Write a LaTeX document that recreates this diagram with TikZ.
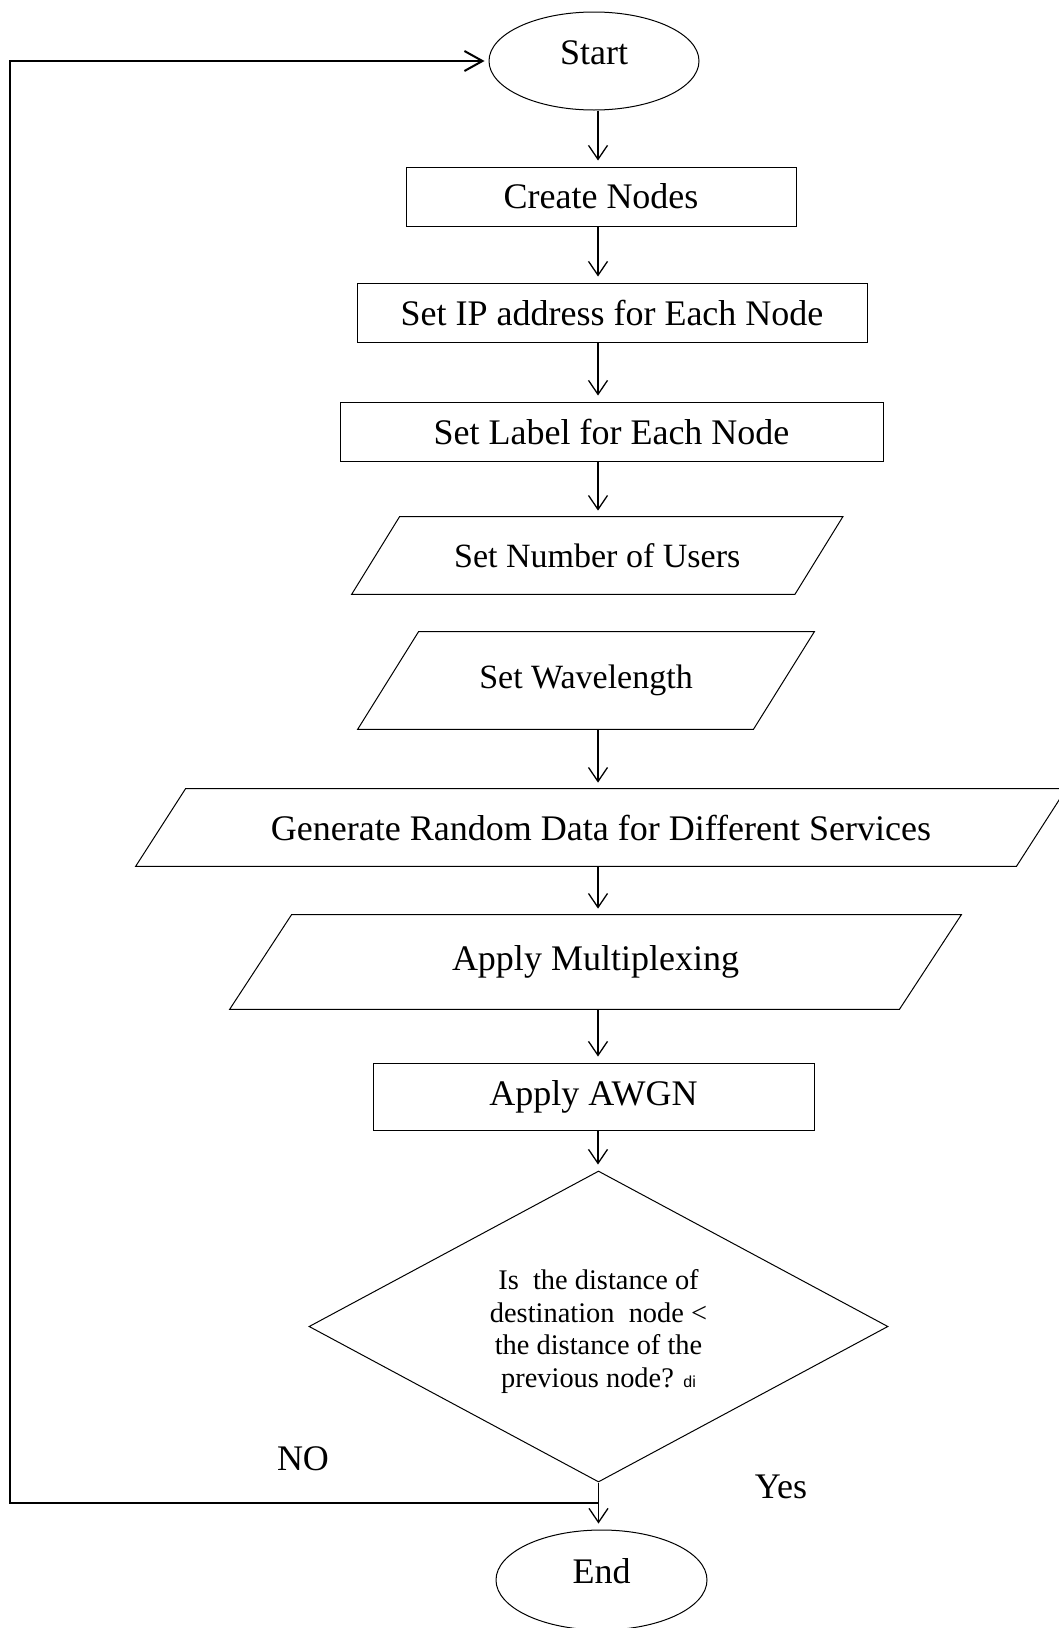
\documentclass[tikz,border=0pt]{standalone}
\usepackage{fontspec}
\setmainfont{Liberation Serif}
\newfontfamily\tinysans{Liberation Sans}
\usetikzlibrary{shapes.geometric,arrows.meta}

% slanted input/output box drawn around a plain rectangular text node
\newcommand{\iopara}[2]{%
  \draw[outline] ([xshift=#2]#1.north west) -- ([xshift=#2]#1.north east)
    -- ([xshift=-#2]#1.south east) -- ([xshift=-#2]#1.south west) -- cycle;}

\begin{document}
\begin{tikzpicture}[x=0.5pt,y=-0.5pt,
  outline/.style={line width=0.5pt, line join=miter},
  txt/.style={font=\fontsize{18}{21}\selectfont},
  smalltxt/.style={font=\fontsize{17}{20}\selectfont},
  procbox/.style={txt, draw, outline, rectangle, inner sep=0pt},
  iobox/.style={txt, rectangle, inner sep=0pt},
  terminal/.style={draw, outline, ellipse, inner sep=0pt},
  flow/.style={line width=0.65pt, -{Straight Barb[length=7pt,width=9.5pt]}, shorten >=3pt},
  loopline/.style={line width=1pt, -{Straight Barb[length=9pt,width=10pt]}, shorten >=2pt}
]
\useasboundingbox (0,0) rectangle (1059,1628);
\clip (0,0) rectangle (1059,1628);

% terminals
\node[terminal, minimum width=105pt, minimum height=49pt,
      label={[txt,yshift=4.25pt]center:Start}] (start) at (594,61) {};
\node[terminal, minimum width=105.5pt, minimum height=50pt,
      label={[txt,yshift=4.25pt]center:End}] (end) at (601.5,1580) {};

% process steps
\node[procbox, minimum width=195pt, minimum height=29.5pt] (create) at (601,196.5) {Create Nodes};
\node[procbox, minimum width=255pt, minimum height=29.5pt] (ip) at (612,312.5) {Set IP address for Each Node};
\node[procbox, minimum width=271.5pt, minimum height=29.5pt] (lbl) at (611.5,431.5) {Set Label for Each Node};

% input/output steps
\node[iobox, smalltxt, minimum width=221.25pt, minimum height=38.5pt] (users) at (597.25,555.5) {Set Number of Users};
\node[iobox, smalltxt, minimum width=197.5pt, minimum height=48.5pt] (wave) at (586,680.5) {Set Wavelength};
\node[iobox, minimum width=440pt, minimum height=38.5pt] (gen) at (601,827.5) {Generate Random Data for Different Services};
\node[iobox, minimum width=334.5pt, minimum height=47pt] (mux) at (595.5,962) {Apply Multiplexing};
\iopara{users}{12pt}
\iopara{wave}{15.25pt}
\iopara{gen}{12.5pt}
\iopara{mux}{15.5pt}

\node[procbox, minimum width=220.5pt, minimum height=33.5pt] (awgn) at (593.5,1096.5) {Apply AWGN};

% decision
\node[diamond, draw, outline, aspect=1.862, minimum width=289.5pt, minimum height=155.5pt,
      inner sep=0pt] (test) at (598.5,1326.5) {};
\node[align=center, inner sep=0pt, yshift=-2.5pt, font=\fontsize{14.2}{16.2}\selectfont] (testtxt) at (test.center)
  {Is\ \ the distance of\\destination\ \ node <\\the distance of the\\previous node? {\tinysans\fontsize{8}{9}\selectfont di}};

\node[txt] (no) at (303,1458.5) {NO};
\node[txt] (yes) at (781,1486.5) {Yes};

% main flow
\coordinate (axis) at (598,0);
\draw[flow] (start.south -| axis) -- (create.north -| axis);
\draw[flow] (create.south -| axis) -- (ip.north -| axis);
\draw[flow] (ip.south -| axis) -- (lbl.north -| axis);
\draw[flow] (lbl.south -| axis) -- (users.north -| axis);
\draw[flow] (wave.south -| axis) -- (gen.north -| axis);
\draw[flow] (gen.south -| axis) -- (mux.north -| axis);
\draw[flow] (mux.south -| axis) -- (awgn.north -| axis);
\draw[flow] (awgn.south -| axis) -- (test.north -| axis);
\draw[flow] (test.south) -- (end.north -| test.south);

% return path back to the start
\coordinate (retY) at (0,1503);
\coordinate (leftX) at (10,0);
\coordinate (ret) at (test.south |- retY);
\draw[loopline] (ret) -| (leftX |- start.west) -- (start.west);
\end{tikzpicture}
\end{document}
